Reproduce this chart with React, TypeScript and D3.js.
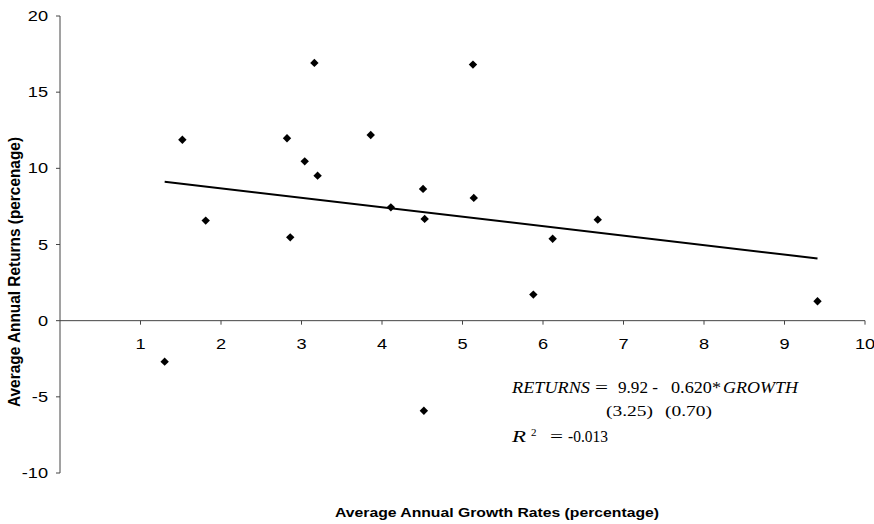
import React from 'react';
import * as d3 from 'd3';

const growth = [1.3, 1.52, 1.81, 2.82, 2.86, 3.04, 3.16, 3.2, 3.86, 4.11, 4.51, 4.53, 4.52, 5.13, 5.14, 5.88, 6.12, 6.68, 9.41];
const returns = [-2.69, 11.88, 6.57, 11.97, 5.47, 10.46, 16.92, 9.52, 12.19, 7.44, 8.65, 6.68, -5.91, 16.81, 8.06, 1.71, 5.38, 6.63, 1.27];
const xTicks = [1, 2, 3, 4, 5, 6, 7, 8, 9, 10];
const yTicks = [-10, -5, 0, 5, 10, 15, 20];
const intercept = 9.92;
const slope = -0.62;

const W = 874;
const H = 524;

export default function App() {
  const x = d3.scaleLinear().domain([0, 10]).range([60, 865]);
  const y = d3.scaleLinear().domain([-10, 20]).range([473, 16]);

  const xMin = d3.min(growth) as number;
  const xMax = d3.max(growth) as number;
  const line = d3.line<number>()
    .x(d => x(d))
    .y(d => y(intercept + slope * d));

  // square-ish diamond like the original scatter markers
  const diamond = 'M0,-4.2L4.2,0L0,4.2L-4.2,0Z';

  const sans = 'Arial, "Liberation Sans", sans-serif';
  const serif = '"Times New Roman", "Liberation Serif", serif';
  const axisColor = '#444';

  // pieces of the regression annotation: [text, x, width, italic]
  const eqPieces: [string, number, number, boolean][] = [
    ['RETURNS', 512, 78, true],
    ['=', 595, 13, false],
    ['9.92 -', 618, 40, false],
    ['0.620*', 671, 50, false],
    ['GROWTH', 723, 75, true],
  ];

  return (
    <svg width={W} height={H} style={{position: 'absolute', left: 0, top: 0}}>
      {/* y axis */}
      <line x1={x(0)} x2={x(0)} y1={y(20)} y2={y(-10)} stroke={axisColor} strokeWidth={1} />
      {yTicks.map(t => (
        <g key={'y' + t}>
          <line x1={x(0) - 4} x2={x(0)} y1={y(t)} y2={y(t)} stroke={axisColor} />
          <text
            transform={`translate(${x(0) - 12},${y(t)}) scale(1.3,1)`}
            dy="0.36em"
            textAnchor="end"
            fontFamily={sans}
            fontSize={14}>
            {t}
          </text>
        </g>
      ))}
      {/* x axis along zero */}
      <line x1={x(0)} x2={x(10)} y1={y(0)} y2={y(0)} stroke={axisColor} strokeWidth={1} />
      {xTicks.map(t => (
        <g key={'x' + t}>
          <line x1={x(t)} x2={x(t)} y1={y(0)} y2={y(0) + 4} stroke={axisColor} />
          <text
            transform={`translate(${x(t)},${y(0) + 28}) scale(1.3,1)`}
            textAnchor="middle"
            fontFamily={sans}
            fontSize={14}>
            {t}
          </text>
        </g>
      ))}
      {/* trend line */}
      <path d={line([xMin, xMax]) || ''} fill="none" stroke="black" strokeWidth={2} />
      {/* points */}
      {growth.map((g, i) => (
        <path key={i} d={diamond} transform={`translate(${x(g)},${y(returns[i])})`} fill="black" />
      ))}
      {/* equation */}
      <g fontFamily={serif} fontSize={17.5}>
        {eqPieces.map(([s, px, w, it]) => (
          <text key={s} x={px} y={393} fontStyle={it ? 'italic' : 'normal'} textLength={w} lengthAdjust="spacingAndGlyphs">
            {s}
          </text>
        ))}
      </g>
      <g fontFamily={serif} fontSize={14}>
        <text x={606} y={416} textLength={47} lengthAdjust="spacingAndGlyphs">(3.25)</text>
        <text x={665} y={416} textLength={47} lengthAdjust="spacingAndGlyphs">(0.70)</text>
      </g>
      <g fontFamily={serif} fontSize={17.5}>
        <text x={512} y={442} fontStyle="italic" textLength={14} lengthAdjust="spacingAndGlyphs">R</text>
        <text x={531} y={436} fontSize={11}>2</text>
        <text x={550} y={442} textLength={13} lengthAdjust="spacingAndGlyphs">=</text>
        <text x={568} y={442} textLength={40} lengthAdjust="spacingAndGlyphs">-0.013</text>
      </g>
      {/* axis titles */}
      <text
        transform={`translate(20,272) rotate(-90) scale(1,1.15)`}
        textAnchor="middle"
        fontFamily={sans}
        fontWeight="bold"
        fontSize={14}
        textLength={270}
        lengthAdjust="spacingAndGlyphs">
        Average Annual Returns (percenage)
      </text>
      <text
        x={497}
        y={517}
        textAnchor="middle"
        fontFamily={sans}
        fontWeight="bold"
        fontSize={12.5}
        textLength={324}
        lengthAdjust="spacingAndGlyphs">
        Average Annual Growth Rates (percentage)
      </text>
    </svg>
  );
}
